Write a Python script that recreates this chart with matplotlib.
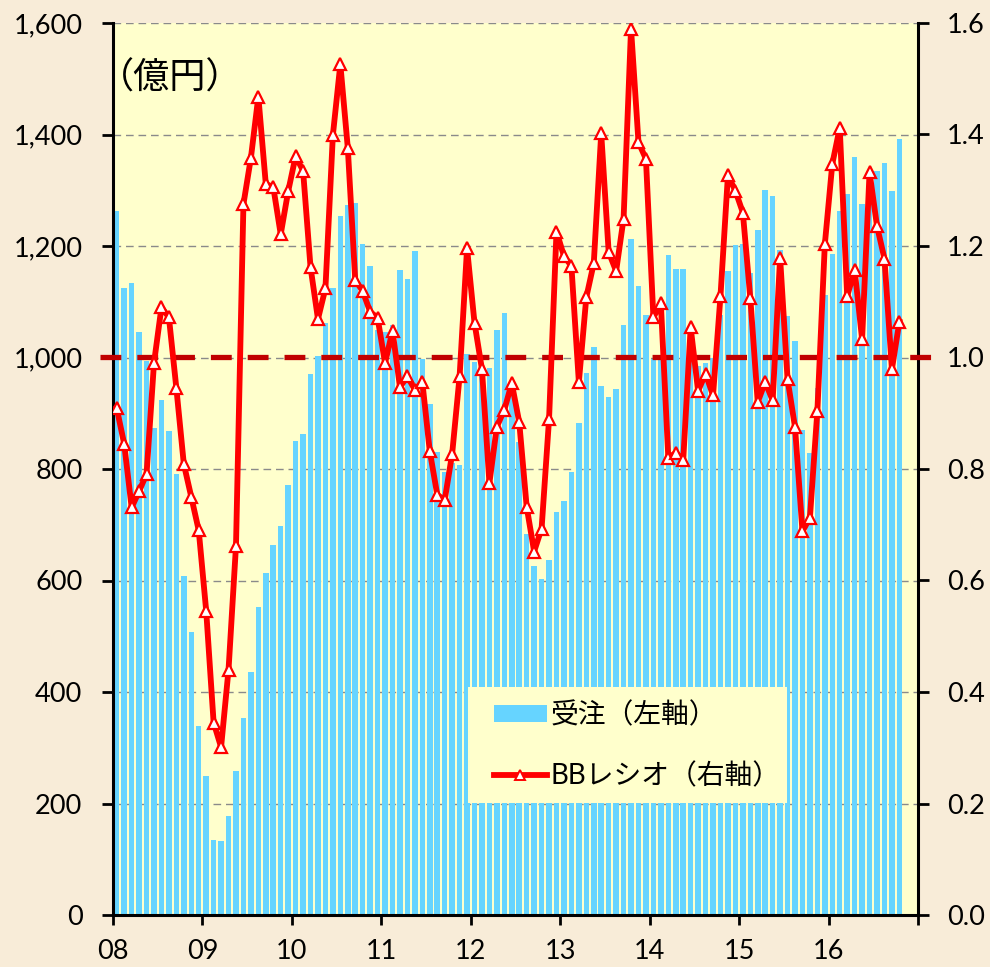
import matplotlib
matplotlib.use('Agg')
import matplotlib.pyplot as plt
from matplotlib.patches import Patch, Rectangle
from matplotlib.lines import Line2D
from matplotlib.ticker import FuncFormatter
import numpy as np

plt.rcParams['font.family'] = ['Lato', 'Noto Sans CJK JP', 'DejaVu Sans']
plt.rcParams['lines.scale_dashes'] = False

# Year tick labels (Jan of each year, 2008-2017)
year_labels = ['08', '09', '10', '11', '12', '13', '14', '15', '16', '']

# Monthly orders, 100 million yen (Jan 2008 - Oct 2016)
orders = [
    1263, 1124, 1133, 1046, 993, 874, 923, 868, 791, 608, 507, 339,
    250, 135, 133, 177, 258, 354, 436, 553, 613, 663, 698, 772,
    850, 862, 970, 1002, 1061, 1124, 1253, 1273, 1277, 1203, 1164, 1050,
    1045, 1058, 1157, 1140, 1191, 998, 917, 831, 794, 811, 807, 1007,
    992, 982, 981, 1049, 1079, 945, 849, 683, 626, 602, 637, 722,
    743, 794, 882, 972, 1018, 949, 929, 943, 1058, 1212, 1128, 1077,
    997, 1000, 1183, 1158, 1159, 1040, 985, 990, 1000, 1077, 1156, 1201,
    1203, 1152, 1228, 1301, 1290, 1193, 1074, 1030, 870, 829, 945, 1112,
    1185, 1262, 1294, 1360, 1275, 1334, 1335, 1348, 1298, 1392,
]

# Monthly book-to-bill ratio
bb_ratio = [
    0.909, 0.845, 0.731, 0.760, 0.791, 0.990, 1.090, 1.072, 0.945, 0.809, 0.750, 0.690,
    0.546, 0.345, 0.301, 0.440, 0.662, 1.275, 1.358, 1.468, 1.311, 1.306, 1.221, 1.298,
    1.361, 1.335, 1.162, 1.069, 1.124, 1.399, 1.526, 1.376, 1.139, 1.119, 1.082, 1.071,
    0.990, 1.048, 0.947, 0.966, 0.942, 0.956, 0.832, 0.754, 0.744, 0.827, 0.966, 1.196,
    1.062, 0.979, 0.775, 0.876, 0.906, 0.954, 0.884, 0.732, 0.652, 0.693, 0.889, 1.226,
    1.182, 1.164, 0.956, 1.108, 1.169, 1.402, 1.189, 1.155, 1.249, 1.590, 1.386, 1.356,
    1.072, 1.097, 0.820, 0.829, 0.816, 1.054, 0.940, 0.971, 0.932, 1.110, 1.327, 1.299,
    1.260, 1.107, 0.920, 0.956, 0.923, 1.179, 0.961, 0.875, 0.688, 0.713, 0.904, 1.203,
    1.347, 1.412, 1.110, 1.157, 1.033, 1.332, 1.236, 1.177, 0.979, 1.064,
]

bar_label = '受注（左軸）'
line_label = 'BBレシオ（右軸）'
unit_label = '（億円）'

BAR_COLOR = '#66D4FF'
LINE_COLOR = '#FF0000'
REF_COLOR = '#C00000'
PLOT_BG = '#FFFFCC'
FIG_BG = '#F8ECD8'

W, H = 990, 967
fig = plt.figure(figsize=(W / 100, H / 100), dpi=100, facecolor=FIG_BG)
L, R, T, B = 113, 918, 23, 915
ax = fig.add_axes([L / W, 1 - B / H, (R - L) / W, (B - T) / H])
ax.set_facecolor(PLOT_BG)

x = np.arange(len(orders))
ax.bar(x, orders, width=0.74, color=BAR_COLOR, zorder=2)
ax.set_xlim(-0.5, 107.5)
ax.set_ylim(0, 1600)
ax.set_yticks(np.arange(0, 1601, 200))
ax.yaxis.set_major_formatter(FuncFormatter(lambda v, p: f'{int(v):,}'))
ax.set_xticks(np.arange(-0.5, 108, 12))
ax.set_xticklabels(year_labels)
ax.grid(axis='y', color='#8A8A8A', linestyle=(0, (5.5, 3.5)), linewidth=1.0)
ax.set_axisbelow(True)

ax2 = ax.twinx()
ax2.set_ylim(0, 1.6)
ax2.set_yticks(np.arange(0, 1.61, 0.2))
ax2.yaxis.set_major_formatter(FuncFormatter(lambda v, p: f'{v:.1f}'))

# break-even reference at BB ratio 1.0
ax2.plot([-2.2, 109.9], [1.0, 1.0], color=REF_COLOR, lw=3.8,
         dashes=(15, 11.5), clip_on=False, zorder=3)
ax2.plot(x, bb_ratio, color=LINE_COLOR, lw=4.2, marker='^', ms=8.5,
         mfc='white', mec=LINE_COLOR, mew=1.6, zorder=4)

for a in (ax, ax2):
    a.spines['top'].set_visible(False)
    for s in ('left', 'right', 'bottom'):
        a.spines[s].set_linewidth(2.2)
        a.spines[s].set_color('black')
ax.spines['right'].set_visible(False)
ax2.spines['left'].set_visible(False)
ax2.spines['bottom'].set_visible(False)

ax.tick_params(axis='y', direction='out', length=8, width=2, pad=14, labelsize=19.5)
ax.tick_params(axis='x', direction='out', length=7, width=2, pad=10.5, labelsize=19.5)
ax2.tick_params(axis='y', direction='out', length=8, width=2, pad=13, labelsize=19.5)

fig.text(98 / W, 1 - 77 / H, unit_label, fontsize=26, ha='left', va='center')

# legend panel: opaque box with the two entries inside
fig.patches.append(Rectangle((468 / W, 1 - 803 / H), 319 / W, 116 / H,
                             transform=fig.transFigure, facecolor=PLOT_BG,
                             edgecolor='none', zorder=5))
handles = [
    Patch(facecolor=BAR_COLOR, edgecolor='none'),
    Line2D([], [], color=LINE_COLOR, lw=4.2, marker='^', ms=7.5,
           mfc='white', mec=LINE_COLOR, mew=1.4),
]
leg = fig.legend(handles, [bar_label, line_label], loc='center left',
                 bbox_to_anchor=(494 / W, 1 - 745.5 / H), fontsize=20,
                 frameon=False, borderpad=0, borderaxespad=0,
                 labelspacing=1.23, handlelength=1.9, handleheight=0.6,
                 handletextpad=0.15)
leg.set_zorder(10)

fig.savefig('out.png', dpi=100, facecolor=FIG_BG)
